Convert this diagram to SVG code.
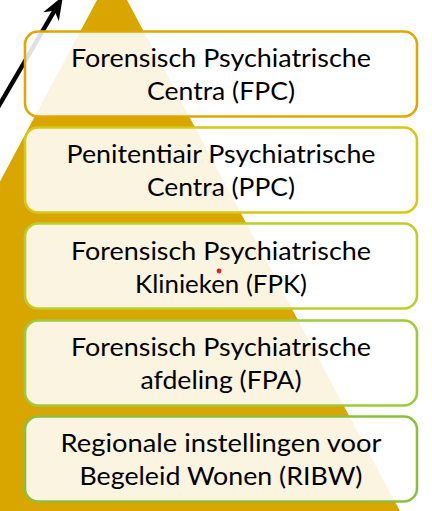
<svg xmlns="http://www.w3.org/2000/svg" width="432" height="511" viewBox="0 0 432 511">
<style>
.box{fill:#ffffff;fill-opacity:0.88;stroke-width:2.6}
.t{font-family:Lato,"Open Sans","Liberation Sans",sans-serif;font-size:25px;fill:#000;text-anchor:middle}
</style>
<rect width="432" height="511" fill="#ffffff"/>
<polygon id="pyramid" points="112,-28 400,511 -176,511" fill="#D9A600"/>
<g id="connectors">
<line x1="-3" y1="109" x2="54.5" y2="10.7" stroke="#000" stroke-width="4.5"/>
<polygon points="63,-4 58.8,21.3 54.5,10.7 43.2,12.3" fill="#000"/>
</g>
<g id="fpc">
<rect class="box" x="25" y="31.5" width="392" height="85" rx="13" stroke="#DFA800"/>
<text class="t" x="221" y="67" textLength="300" lengthAdjust="spacingAndGlyphs">Forensisch Psychiatrische</text>
<text class="t" x="221" y="100" textLength="148" lengthAdjust="spacingAndGlyphs">Centra (FPC)</text>
</g>
<g id="ppc">
<rect class="box" x="25" y="127.5" width="392" height="85" rx="13" stroke="#D6C814"/>
<text class="t" x="221" y="163" textLength="309" lengthAdjust="spacingAndGlyphs">Penitentiair Psychiatrische</text>
<text class="t" x="221" y="196" textLength="148" lengthAdjust="spacingAndGlyphs">Centra (PPC)</text>
</g>
<g id="fpk">
<rect class="box" x="25" y="223.5" width="392" height="85" rx="13" stroke="#BBCF2A"/>
<text class="t" x="221" y="260" textLength="300" lengthAdjust="spacingAndGlyphs">Forensisch Psychiatrische</text>
<text class="t" x="221" y="293" textLength="172" lengthAdjust="spacingAndGlyphs">Klinieken (FPK)</text>
</g>
<g id="fpa">
<rect class="box" x="25" y="320.5" width="392" height="85" rx="13" stroke="#9ECA3C"/>
<text class="t" x="221" y="356" textLength="300" lengthAdjust="spacingAndGlyphs">Forensisch Psychiatrische</text>
<text class="t" x="221" y="389" textLength="161" lengthAdjust="spacingAndGlyphs">afdeling (FPA)</text>
</g>
<g id="ribw">
<rect class="box" x="25" y="416.5" width="392" height="85" rx="13" stroke="#8DBF3C"/>
<text class="t" x="221" y="452" textLength="321" lengthAdjust="spacingAndGlyphs">Regionale instellingen voor</text>
<text class="t" x="221" y="485" textLength="283" lengthAdjust="spacingAndGlyphs">Begeleid Wonen (RIBW)</text>
</g>
<circle cx="219" cy="271" r="2.4" fill="#E02020"/>
</svg>
